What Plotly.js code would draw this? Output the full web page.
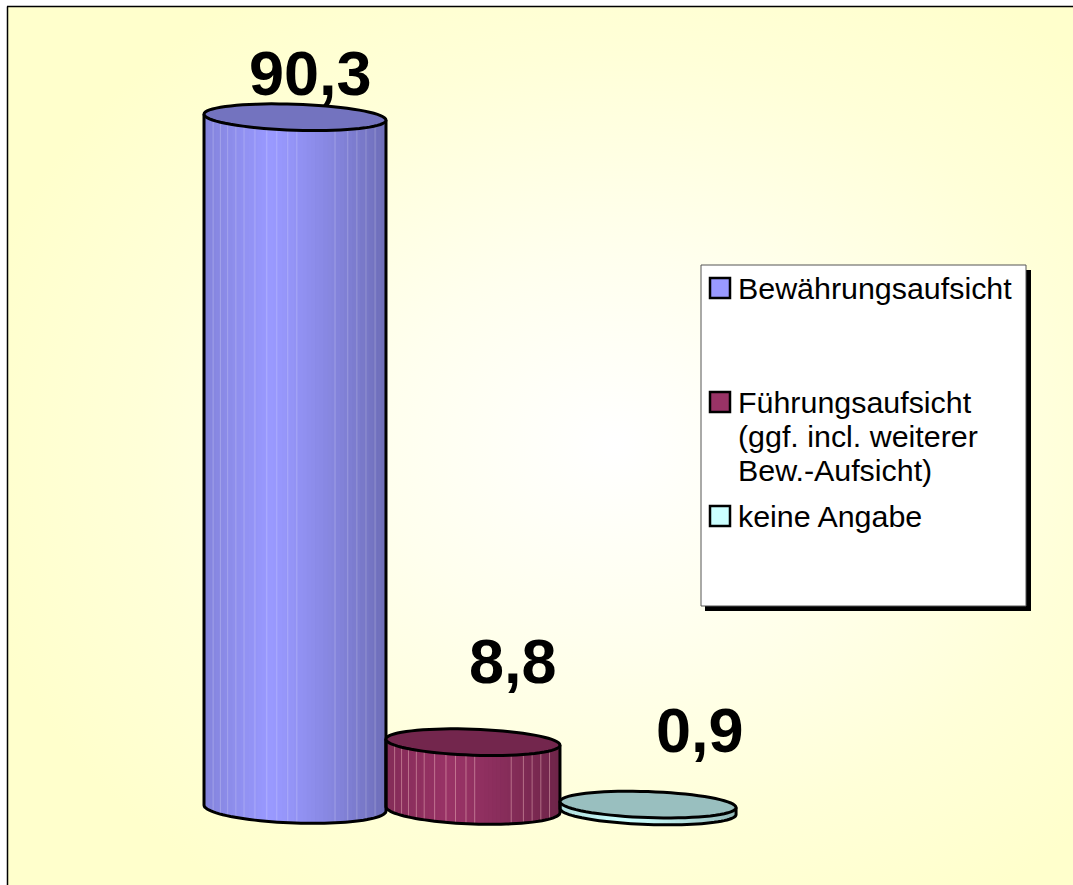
<!DOCTYPE html>
<html><head><meta charset="utf-8">
<script src="https://cdn.plot.ly/plotly-3.0.1.min.js"></script>
<style>
html,body{margin:0;padding:0;background:#fff;width:1073px;height:885px;overflow:hidden}
#bg{position:absolute;left:8px;top:7px;width:1065px;height:878px;
background:radial-gradient(ellipse 62% 62% at 57% 50%,#ffffff 0%,#ffffee 35%,#ffffd8 72%,#ffffcc 100%)}
#chart{position:absolute;left:0;top:0;width:1073px;height:885px}
</style></head><body>
<div id="bg"></div><div id="chart"></div>
<script>
const categories=['Bewährungsaufsicht','Führungsaufsicht (ggf. incl. weiterer Bew.-Aufsicht)','keine Angabe'];
const values=[90.3,8.8,0.9];
const valueLabels=['90,3','8,8','0,9'];
const bodyColors=[[153,153,255],[153,51,102],[204,255,255]];
const legendLines=[['Bewährungsaufsicht'],['Führungsaufsicht','(ggf. incl. weiterer','Bew.-Aufsicht)'],['keine Angabe']];

const W=1073,H=885;
const pxPerUnit=7.65, baseY=808;
const yMin=(baseY-H)/pxPerUnit, yMax=baseY/pxPerUnit;
const catStep=176, cat0Px=295;
const xMin=-cat0Px/catStep, xMax=(W-cat0Px)/catStep;
const centers=[0,1.011,2.006], widths=[1.034,0.989,1.0];
const baseShift=[0,-1.5,-3.5].map(v=>v/pxPerUnit);
const topRy=13/pxPerUnit, bottomRy=[15,14.5,13].map(v=>v/pxPerUnit), skew=3/pxPerUnit;

function shade(c,t){
  const peak=0.36;
  const f=t<peak?0.86+0.14*(t/peak):1-0.28*Math.pow((t-peak)/(1-peak),1.3);
  return 'rgb('+c.map(v=>Math.round(v*f)).join(',')+')';
}
function ellipsePath(cx,w,cy){
  let d='';
  for(let i=0;i<=72;i++){
    const a=i/72*2*Math.PI;
    const x=cx+w/2*Math.cos(a), y=cy+topRy*Math.sin(a)-skew*Math.cos(a);
    d+=(i?'L':'M')+x.toFixed(4)+','+y.toFixed(4);
  }
  return d+'Z';
}
function lowEdge(k,t){ // t: 0 left .. 1 right
  const u=1-2*t;
  return baseShift[k]-bottomRy[k]*Math.sqrt(Math.max(0,1-u*u))+skew*u;
}
function outlinePath(k,top){
  const cx=centers[k],w=widths[k];
  let d='M'+(cx-w/2).toFixed(4)+','+(top+skew).toFixed(4);
  for(let i=0;i<=48;i++){
    const a=Math.PI-i/48*Math.PI, t=(1+Math.cos(a))/2;
    d+='L'+(cx-w/2+w*t).toFixed(4)+','+lowEdge(k,t).toFixed(4);
  }
  d+='L'+(cx+w/2).toFixed(4)+','+(top-skew).toFixed(4);
  return d;
}
const strips=44;
const sheen=[0.05,0.09,0.13,0.175,0.22,0.28,0.345,0.4,0.46,0.51,0.72,0.79,0.84,0.89,0.94];
const sheenColor=['rgba(255,255,255,0.22)','rgba(255,205,205,0.42)',null];
const traces=[], shapes=[];
const N=categories.length;
for(let k=0;k<N;k++){
  const xs=[],ys=[],bs=[],ws=[],cs=[];
  const w=widths[k],cx=centers[k];
  const top=values[k]+baseShift[k];
  for(let i=0;i<strips;i++){
    const t=(i+0.5)/strips;
    const low=lowEdge(k,t);
    xs.push(cx-w/2+w*t); bs.push(low); ys.push(top+skew*(1-2*t)-low);
    ws.push(w/strips*1.3);
    cs.push(shade(bodyColors[k],t));
  }
  traces.push({type:'bar',x:xs,y:ys,base:bs,width:ws,name:categories[k],showlegend:false,
    marker:{color:cs,line:{width:0}},hoverinfo:'skip'});
  if(sheenColor[k]){
    sheen.forEach(t=>{
      const u=1-2*t;
      shapes.push({type:'line',xref:'x',yref:'y',layer:'above',
        x0:cx-w/2+w*t,x1:cx-w/2+w*t,y0:lowEdge(k,t),y1:top+skew*u,
        line:{color:sheenColor[k],width:1}});
    });
  }
  shapes.push({type:'path',xref:'x',yref:'y',layer:'above',path:outlinePath(k,top),
    line:{color:'#000',width:3},fillcolor:'rgba(0,0,0,0)'});
  const d=0.75;
  shapes.push({type:'path',xref:'x',yref:'y',layer:'above',path:ellipsePath(cx,w,top),
    line:{color:'#000',width:3},
    fillcolor:'rgb('+bodyColors[k].map(v=>Math.round(v*d)).join(',')+')'});
}
// frame
shapes.push({type:'line',xref:'paper',yref:'paper',x0:7.5/W,x1:7.5/W,y0:0,y1:1-6.5/H,line:{color:'#000',width:1.5}});
shapes.push({type:'line',xref:'paper',yref:'paper',x0:7/W,x1:1,y0:1-6.5/H,y1:1-6.5/H,line:{color:'#000',width:1.5}});
// legend box and shadow
const px=v=>v/W, py=v=>1-v/H;
shapes.push({type:'rect',xref:'paper',yref:'paper',x0:px(705),x1:px(1031),y0:py(270),y1:py(611),fillcolor:'#000',line:{width:0}});
shapes.push({type:'rect',xref:'paper',yref:'paper',x0:px(701),x1:px(1026),y0:py(265),y1:py(606),fillcolor:'#fff',line:{color:'#555',width:1}});
const annotations=[];
const entryY=[288,402,516];
legendLines.forEach((lines,k)=>{
  shapes.push({type:'rect',xref:'paper',yref:'paper',x0:px(710),x1:px(730),y0:py(entryY[k]-10),y1:py(entryY[k]+10),
    fillcolor:'rgb('+bodyColors[k].join(',')+')',line:{color:'#000',width:2.5}});
  lines.forEach((txt,j)=>{
    annotations.push({xref:'paper',yref:'paper',x:px(737),y:py(entryY[k]+j*34),xanchor:'left',yanchor:'middle',
      text:txt,showarrow:false,font:{family:'Liberation Sans',size:30.4,color:'#000'},borderpad:0});
  });
});
// value labels
const labelX=[0.09,1.237,2.30], labelGap=[1.1,5.7,4.65];
values.forEach((v,k)=>{
  annotations.push({xref:'x',yref:'y',x:labelX[k],y:v+labelGap[k],yanchor:'bottom',xanchor:'center',
    text:'<b>'+valueLabels[k]+'</b>',showarrow:false,font:{family:'Liberation Sans',size:63,color:'#000'},borderpad:0});
});
Plotly.newPlot('chart',traces,{
  width:W,height:H,margin:{l:0,r:0,t:0,b:0,pad:0},
  paper_bgcolor:'rgba(0,0,0,0)',plot_bgcolor:'rgba(0,0,0,0)',
  showlegend:false,barmode:'overlay',
  xaxis:{range:[xMin,xMax],visible:false,fixedrange:true},
  yaxis:{range:[yMin,yMax],visible:false,fixedrange:true},
  shapes:shapes,annotations:annotations
},{displayModeBar:false,staticPlot:true});
</script></body></html>
